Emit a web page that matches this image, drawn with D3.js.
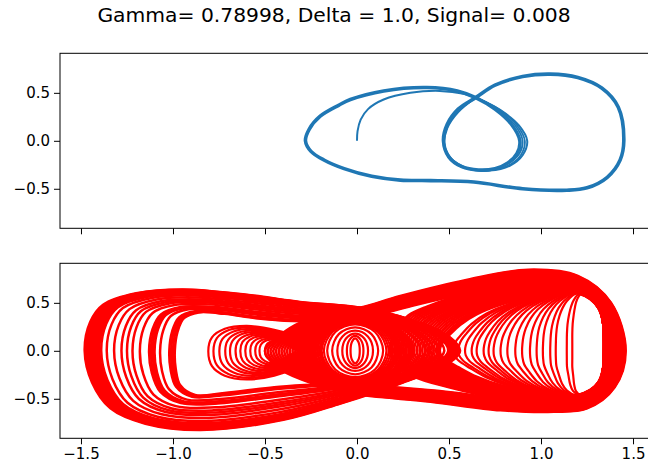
<!DOCTYPE html>
<html><head><meta charset="utf-8">
<script src="https://cdn.jsdelivr.net/npm/d3@7"></script>
<style>
body{margin:0;background:#fff}
svg{display:block}
text{font-family:"DejaVu Sans",sans-serif;fill:#000}
</style>
</head><body>
<svg id="chart" width="648" height="474"></svg>
<script>
// ---------- texts and ticks ----------
const titleText = "Gamma= 0.78998, Delta = 1.0, Signal= 0.008";
const xTickValues = [-1.5, -1.0, -0.5, 0.0, 0.5, 1.0, 1.5];
const yTickValues = [-0.5, 0.0, 0.5];
const xLimits = [-1.614, 1.614];
const yLimits = [-0.912, 0.912];

// ---------- top panel: blue trajectory (x, dx/dt) ----------
const blueOrbitX = [0.645,0.75,0.84,0.885,0.87,0.82,0.75,0.66,0.57,0.50,0.47,0.49,0.55,0.645,0.75,0.90,1.05,1.20,1.33,1.42,1.45,1.43,1.36,1.25,1.14,0.90,0.635,0.40,0.236,0.08,-0.07,-0.18,-0.25,-0.28,-0.26,-0.20,-0.10,-0.036,0.145,0.38,0.545];
const blueOrbitY = [0.45,0.33,0.17,0.0,-0.13,-0.23,-0.29,-0.305,-0.27,-0.17,0.0,0.17,0.33,0.45,0.58,0.67,0.695,0.66,0.55,0.35,0.0,-0.20,-0.38,-0.49,-0.515,-0.50,-0.43,-0.415,-0.41,-0.37,-0.29,-0.20,-0.11,0.0,0.12,0.256,0.37,0.43,0.52,0.555,0.52];
const blueStartX = [0.0,0.003,0.02,0.06,0.145,0.29,0.45,0.58,0.67,0.78,0.88,0.925,0.90,0.83,0.72,0.60,0.51,0.475,0.49,0.55,0.645];
const blueStartY = [0.0,0.10,0.22,0.33,0.43,0.50,0.52,0.49,0.43,0.32,0.16,0.0,-0.15,-0.26,-0.31,-0.29,-0.20,-0.05,0.13,0.30,0.45];
const blueSecondX = [0.645,0.77,0.87,0.912,0.89,0.82,0.71,0.60,0.51,0.474,0.49,0.55,0.645];
const blueSecondY = [0.45,0.33,0.16,0.0,-0.15,-0.26,-0.31,-0.29,-0.19,-0.03,0.14,0.31,0.45];
const blueThirdX = [0.645,0.76,0.86,0.90,0.88,0.81,0.70,0.60,0.51,0.473,0.49,0.55,0.645];
const blueThirdY = [0.45,0.33,0.16,0.0,-0.14,-0.25,-0.305,-0.285,-0.18,-0.02,0.15,0.32,0.45];

// ---------- bottom panel: red trajectory ----------
// Outlines of the bands of loops (x, dx/dt), traced clockwise from the left end.
const leftOuterX = [-1.48,-1.45,-1.38,-1.20,-0.95,-0.60,-0.31,0.02,0.30,0.50,0.56,0.48,0.25,-0.09,-0.40,-0.85,-1.15,-1.34,-1.44];
const leftOuterY = [0.0,0.30,0.48,0.60,0.64,0.585,0.51,0.45,0.32,0.15,0.0,-0.15,-0.33,-0.55,-0.72,-0.825,-0.76,-0.60,-0.33];
const leftInnerX = [-0.99,-0.975,-0.94,-0.86,-0.72,-0.55,-0.35,-0.12,0.08,0.18,0.21,0.18,0.06,-0.15,-0.45,-0.72,-0.88,-0.96,-0.985];
const leftInnerY = [0.0,0.20,0.34,0.40,0.385,0.34,0.31,0.31,0.28,0.15,0.0,-0.14,-0.30,-0.34,-0.38,-0.44,-0.46,-0.36,-0.19];
const rightOuterX = [-0.50,-0.42,-0.30,-0.12,0.02,0.235,0.60,0.93,1.20,1.38,1.46,1.40,1.25,1.07,0.78,0.40,-0.04,-0.30,-0.44];
const rightOuterY = [0.0,0.16,0.30,0.40,0.45,0.57,0.74,0.845,0.78,0.50,0.0,-0.38,-0.60,-0.636,-0.62,-0.53,-0.44,-0.30,-0.16];
const rightMidOuterX = [-0.20,-0.18,-0.12,-0.02,0.12,0.30,0.60,0.97,1.20,1.35,1.40,1.36,1.22,1.04,0.79,0.45,0.10,-0.08,-0.17];
const rightMidOuterY = [0.0,0.14,0.26,0.32,0.38,0.47,0.60,0.72,0.69,0.47,0.0,-0.35,-0.53,-0.54,-0.50,-0.42,-0.36,-0.30,-0.16];
const rightMidInnerX = [0.18,0.185,0.20,0.23,0.28,0.38,0.60,0.97,1.20,1.35,1.40,1.36,1.22,1.04,0.79,0.50,0.30,0.21,0.185];
const rightMidInnerY = [0.0,0.08,0.17,0.27,0.37,0.46,0.60,0.72,0.69,0.47,0.0,-0.35,-0.53,-0.54,-0.50,-0.38,-0.26,-0.13,-0.06];
const rightInnerX = [0.45,0.455,0.47,0.50,0.56,0.65,0.78,1.00,1.20,1.31,1.345,1.31,1.20,1.00,0.80,0.65,0.55,0.48,0.455];
const rightInnerY = [0.0,0.05,0.10,0.16,0.27,0.38,0.48,0.58,0.60,0.45,0.0,-0.33,-0.46,-0.44,-0.37,-0.27,-0.17,-0.09,-0.04];
const rightHoleX = [1.17,1.17,1.17,1.172,1.178,1.185,1.195,1.22,1.29,1.33,1.34,1.33,1.29,1.22,1.19,1.18,1.175,1.17,1.17];
const rightHoleY = [0.0,0.08,0.18,0.28,0.38,0.46,0.53,0.60,0.58,0.40,0.0,-0.30,-0.44,-0.47,-0.42,-0.35,-0.26,-0.17,-0.08];
const smallOuterX = [-0.81,-0.79,-0.72,-0.60,-0.45,-0.30,-0.20,-0.30,-0.45,-0.60,-0.72,-0.79];
const smallOuterY = [0.0,0.14,0.23,0.26,0.22,0.13,0.0,-0.15,-0.26,-0.30,-0.26,-0.16];
const smallInnerX = [-0.48,-0.475,-0.46,-0.44,-0.41,-0.37,-0.34,-0.37,-0.41,-0.44,-0.46,-0.475];
const smallInnerY = [0.0,0.05,0.08,0.09,0.08,0.04,0.0,-0.04,-0.08,-0.10,-0.08,-0.05];

// Leftmost x of every loop in each family (crescent positions)
const leftBandLoopMinX = [-1.48,-1.472,-1.464,-1.456,-1.448,-1.44,-1.432,-1.424,-1.416,-1.408,-1.40,-1.39,-1.36,-1.32,-1.28,-1.25,-1.22,-1.18,-1.13,-1.12,-1.11,-1.10,-1.07,-1.02,-1.01,-1.00,-0.99];
const rightBandOuterMinX = [-0.50,-0.485,-0.47,-0.455,-0.44,-0.425,-0.41,-0.395,-0.38,-0.365,-0.35,-0.335,-0.32,-0.305,-0.29,-0.275,-0.26,-0.245,-0.23,-0.215,-0.20];
const rightBandInnerMinX = [0.18,0.19,0.205,0.22,0.235,0.25,0.265,0.28,0.295,0.31,0.325,0.34,0.355,0.37,0.385,0.40,0.415,0.43,0.44,0.45];
const rightCrescentMinX = [0.523,0.55,0.587,0.623,0.65,0.688,0.715,0.742,0.78,0.817,0.86,0.897,0.94,0.976,1.01,1.05,1.08,1.14,1.17];
const smallLoopMinX = [-0.808,-0.78,-0.748,-0.716,-0.69,-0.66,-0.634,-0.607,-0.58,-0.553,-0.53,-0.50];
// rings around the middle (centre x, half width, half height)
const ringCenter = -0.01;
const ringHalfWidth = [0.025,0.045,0.07,0.097,0.125,0.152,0.17,0.182,0.194,0.206,0.218,0.23,0.242,0.254,0.266,0.278,0.29,0.30,0.31];
const ringHalfHeight = [0.13,0.155,0.18,0.21,0.245,0.275,0.285,0.292,0.299,0.306,0.313,0.32,0.327,0.334,0.341,0.348,0.355,0.36,0.365];
const ringShapeU = [1,0.71,0,-0.71,-1,-0.71,0,0.71];
const ringShapeV = [0,0.71,1,0.71,0,-0.71,-1,-0.71];

// ---------- drawing ----------
const svg = d3.select("#chart");
const left = 60, right = 654;
const panels = [{top: 53.3, bottom: 228.3}, {top: 263.3, bottom: 438.3}];

const x = d3.scaleLinear().domain(xLimits).range([left, right]);
const yTop = d3.scaleLinear().domain(yLimits).range([panels[0].bottom, panels[0].top]);
const yBot = d3.scaleLinear().domain(yLimits).range([panels[1].bottom, panels[1].top]);

svg.append("text").attr("x", 334).attr("y", 22).attr("text-anchor", "middle")
  .style("font-size", "20.3px").text(titleText);

const defs = svg.append("defs");
panels.forEach((p, i) => {
  defs.append("clipPath").attr("id", "clip" + i).append("rect")
    .attr("x", left).attr("y", p.top).attr("width", right - left).attr("height", p.bottom - p.top);
});

const zipXY = (xs, ys) => xs.map((v, i) => [v, ys[i]]);
// loop lying between two traced outlines; its leftmost x sets where it sits
function loopBetween(ax, ay, bx, by, minX) {
  const f = (minX - ax[0]) / (bx[0] - ax[0]);
  return ax.map((v, i) => [v + f * (bx[i] - v), ay[i] + f * (by[i] - ay[i])]);
}

// top panel
const gTop = svg.append("g").attr("clip-path", "url(#clip0)");
const lineTopOpen = d3.line().x(d => x(d[0])).y(d => yTop(d[1])).curve(d3.curveCatmullRom.alpha(0.5));
const lineTopClosed = d3.line().x(d => x(d[0])).y(d => yTop(d[1])).curve(d3.curveCatmullRomClosed.alpha(0.5));
const blue = "#1f77b4";
[[blueStartX, blueStartY, 2], [blueSecondX, blueSecondY, 1.8], [blueThirdX, blueThirdY, 1.8]].forEach(([xs, ys, w]) => {
  gTop.append("path").attr("d", lineTopOpen(zipXY(xs, ys)))
    .attr("fill", "none").attr("stroke", blue).attr("stroke-width", w);
});
gTop.append("path").attr("d", lineTopClosed(zipXY(blueOrbitX, blueOrbitY)))
  .attr("fill", "none").attr("stroke", blue).attr("stroke-width", 3.6).attr("stroke-linejoin", "round");

// bottom panel
const gBot = svg.append("g").attr("clip-path", "url(#clip1)");
const lineBot = d3.line().x(d => x(d[0])).y(d => yBot(d[1])).curve(d3.curveCatmullRomClosed.alpha(0.5));
const red = "#ff0000";
function drawLoop(pts, w) {
  gBot.append("path").attr("d", lineBot(pts)).attr("fill", "none")
    .attr("stroke", red).attr("stroke-width", w);
}
leftBandLoopMinX.forEach(v => drawLoop(loopBetween(leftInnerX, leftInnerY, leftOuterX, leftOuterY, v), 2.5));
rightBandOuterMinX.forEach(v => drawLoop(loopBetween(rightMidOuterX, rightMidOuterY, rightOuterX, rightOuterY, v), 2.6));
rightBandInnerMinX.forEach(v => drawLoop(loopBetween(rightInnerX, rightInnerY, rightMidInnerX, rightMidInnerY, v), 2.6));
rightCrescentMinX.forEach(v => drawLoop(loopBetween(rightInnerX, rightInnerY, rightHoleX, rightHoleY, v), 2.2));
smallLoopMinX.forEach(v => drawLoop(loopBetween(smallOuterX, smallOuterY, smallInnerX, smallInnerY, v), 2.2));
ringHalfWidth.forEach((rx, i) => drawLoop(ringShapeU.map((u, k) => [ringCenter + u * rx, ringShapeV[k] * ringHalfHeight[i]]), 2.2));

// axes, spines
panels.forEach((p, i) => {
  const yS = i === 0 ? yTop : yBot;
  const gx = svg.append("g").attr("transform", `translate(0,${p.bottom})`)
    .call(d3.axisBottom(x).tickValues(xTickValues).tickSize(6).tickPadding(4)
      .tickFormat(i === 1 ? d3.format(".1f") : () => ""));
  const gy = svg.append("g").attr("transform", `translate(${left},0)`)
    .call(d3.axisLeft(yS).tickValues(yTickValues).tickSize(6).tickPadding(4).tickFormat(d3.format(".1f")));
  [gx, gy].forEach(g => {
    g.select(".domain").remove();
    g.selectAll(".tick line").attr("stroke", "#000").attr("stroke-width", 1);
    g.selectAll(".tick text").style("font-size", "15px").attr("fill", "#000");
  });
  svg.append("rect").attr("x", left).attr("y", p.top).attr("width", right - left).attr("height", p.bottom - p.top)
    .attr("fill", "none").attr("stroke", "#000").attr("stroke-width", 1);
});
</script>
</body></html>
